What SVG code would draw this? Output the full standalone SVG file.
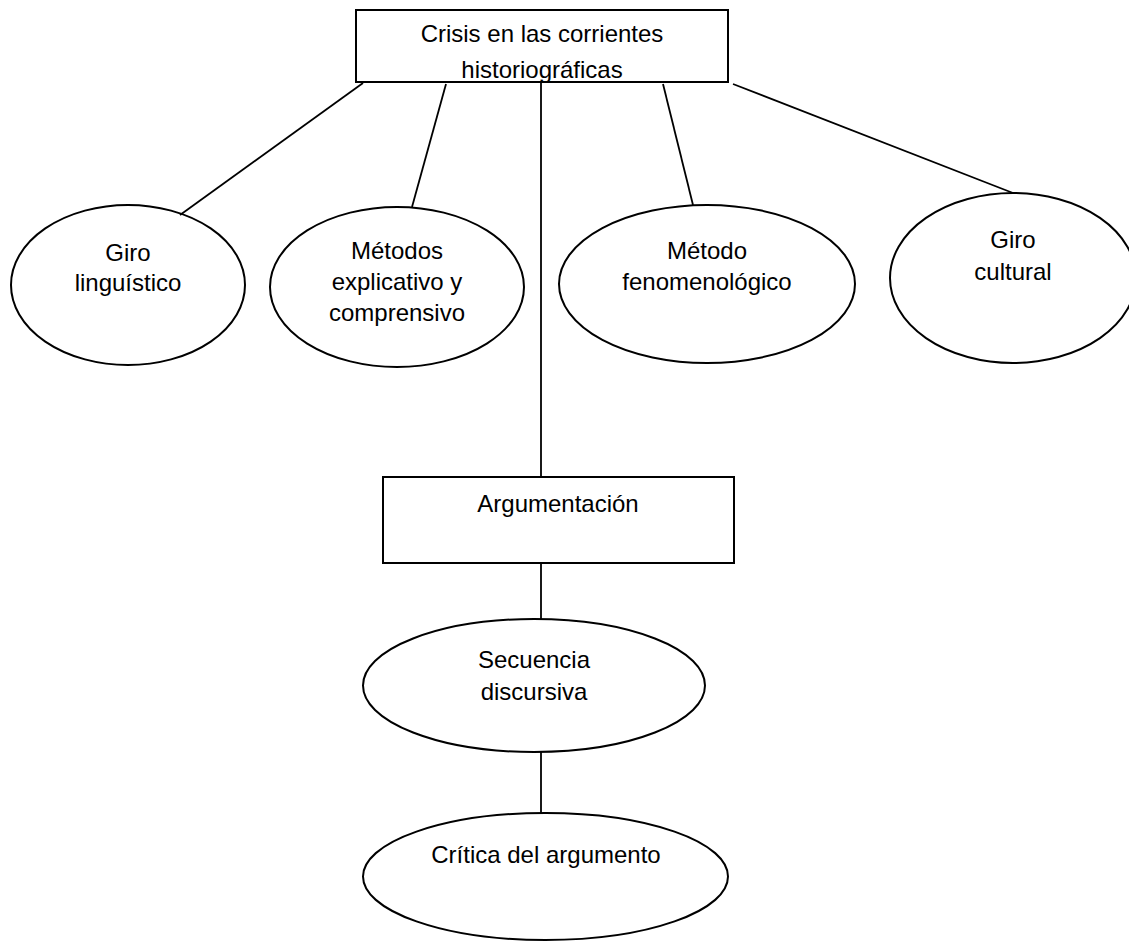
<svg xmlns="http://www.w3.org/2000/svg" width="1129" height="943" viewBox="0 0 1129 943">
<style>
.shape{fill:#fff;stroke:#000;stroke-width:2}
.conn line{stroke:#000;stroke-width:1.8;fill:none}
text{font-family:"Liberation Sans",Arial,sans-serif;font-size:24px;fill:#000;text-anchor:middle}
</style>
<defs>
<clipPath id="clipTop"><rect x="357" y="11" width="370" height="70"/></clipPath>
</defs>
<rect width="1129" height="943" fill="#fff"/>
<g id="n-crisis">
<rect class="shape" x="356" y="10" width="372" height="72"/>
<g clip-path="url(#clipTop)">
<text x="542" y="42">Crisis en las corrientes</text>
<text x="542" y="77.5">historiográficas</text>
</g>
</g>
<g id="n-giro-ling">
<ellipse class="shape" cx="128" cy="285" rx="117" ry="80"/>
<text x="128" y="261">Giro</text>
<text x="128" y="291">linguístico</text>
</g>
<g id="n-metodos">
<ellipse class="shape" cx="397" cy="287" rx="127" ry="80"/>
<text x="397" y="259">Métodos</text>
<text x="397" y="290">explicativo y</text>
<text x="397" y="321">comprensivo</text>
</g>
<g id="n-fenom">
<ellipse class="shape" cx="707" cy="284" rx="148" ry="79"/>
<text x="707" y="259">Método</text>
<text x="707" y="290">fenomenológico</text>
</g>
<g id="n-giro-cult">
<ellipse class="shape" cx="1013" cy="278" rx="123" ry="85"/>
<text x="1013" y="248">Giro</text>
<text x="1013" y="280">cultural</text>
</g>
<g id="n-argumentacion">
<rect class="shape" x="383" y="477" width="351" height="86"/>
<text x="558" y="512">Argumentación</text>
</g>
<g id="n-secuencia">
<ellipse class="shape" cx="534" cy="685.5" rx="171" ry="66.5"/>
<text x="534" y="668">Secuencia</text>
<text x="534" y="700">discursiva</text>
</g>
<g id="n-critica">
<ellipse class="shape" cx="545.5" cy="876.5" rx="182.5" ry="63.5"/>
<text x="546" y="863">Crítica del argumento</text>
</g>
<g id="connectors" class="conn">
<line x1="363" y1="83" x2="180" y2="215"/>
<line x1="446" y1="84" x2="412" y2="207"/>
<line x1="541" y1="83" x2="541" y2="477"/>
<line x1="663" y1="84" x2="693" y2="205"/>
<line x1="733" y1="84" x2="1013" y2="193"/>
<line x1="541" y1="563" x2="541" y2="619"/>
<line x1="541" y1="752" x2="541" y2="813"/>
</g>
</svg>
